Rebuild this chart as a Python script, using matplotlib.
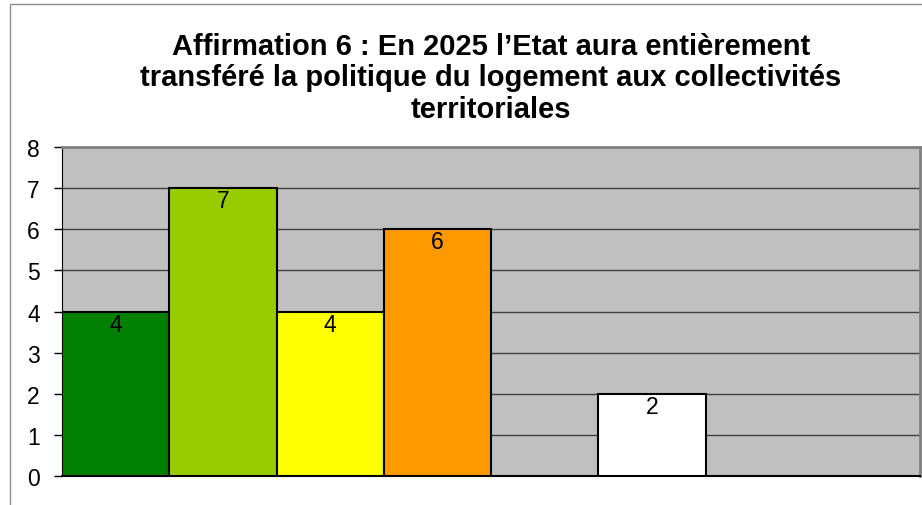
import matplotlib.pyplot as plt
from matplotlib.patches import Rectangle

plt.rcParams['font.family'] = ['Liberation Sans', 'DejaVu Sans']

TITLE = ("Affirmation 6 : En 2025 l\u2019Etat aura entièrement\n"
         "transféré la politique du logement aux collectivités\n"
         "territoriales")
CATEGORIES = ["1", "2", "3", "4", "5", "6", "7", "8"]
VALUES = [4, 7, 4, 6, 0, 2, 0, 0]
COLORS = ["#008000", "#99CC00", "#FFFF00", "#FF9900",
          "#FFFFFF", "#FFFFFF", "#FFFFFF", "#FFFFFF"]
Y_TICKS = [0, 1, 2, 3, 4, 5, 6, 7, 8]


def plot_chart():
    fig = plt.figure(figsize=(9.22, 5.06), dpi=100)
    fig.patches.append(Rectangle((10 / 922, -0.1), 1.0, 1 - 5 / 506 + 0.1,
                                 transform=fig.transFigure, fill=False,
                                 edgecolor='#8c8c8c', linewidth=1))
    ax = fig.add_axes([62 / 922, 1 - 477 / 506, 858 / 922, 329 / 506])
    ax.set_facecolor('#C0C0C0')

    x = list(range(len(CATEGORIES)))
    bars = ax.bar(x, VALUES, width=1.0, color=COLORS, edgecolor='black',
                  linewidth=1.5, zorder=3)
    for b, v in zip(bars, VALUES):
        if v == 0:
            b.set_visible(False)
            continue
        ax.text(b.get_x() + b.get_width() / 2, v - 0.03, str(v),
                ha='center', va='top', fontsize=16.5, zorder=4)

    ax.set_xlim(-0.5, len(CATEGORIES) - 0.5)
    ax.set_ylim(0, 8)
    ax.set_yticks(Y_TICKS)
    ax.yaxis.grid(True, color='#404040', linewidth=1, zorder=1)
    ax.set_axisbelow(True)
    ax.set_xticks([])
    ax.tick_params(axis='y', labelsize=16.5, length=6, width=1, pad=10)

    ax.spines['left'].set_color('black')
    ax.spines['bottom'].set_color('black')
    ax.spines['bottom'].set_linewidth(1.5)
    for s in ('top', 'right'):
        ax.spines[s].set_color('#808080')
        ax.spines[s].set_linewidth(2)

    fig.text(491 / 922, 1 - 33 / 506, TITLE, ha='center', va='top',
             fontsize=21, fontweight='bold', linespacing=1.15)
    fig.savefig('out.png')


if __name__ == "__main__":
    plot_chart()
